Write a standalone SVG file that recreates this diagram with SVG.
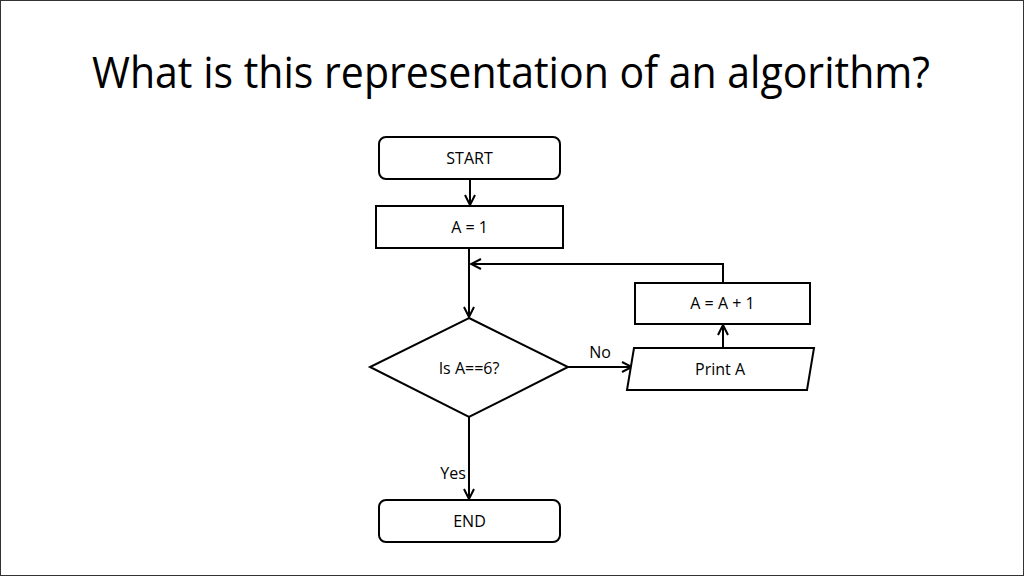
<svg xmlns="http://www.w3.org/2000/svg" width="1024" height="576" viewBox="0 0 1024 576">
<defs>
<marker id="ah" viewBox="0 0 12 12" refX="11" refY="6" markerWidth="12" markerHeight="12" markerUnits="userSpaceOnUse" orient="auto">
<path d="M1,1 L11,6 L1,11" fill="none" stroke="#000" stroke-width="2"/>
</marker>
<style>
.shape{fill:#fff;stroke:#000;stroke-width:2}
.lbl{font-family:"Open Sans","Liberation Sans",sans-serif;font-size:16px;fill:#000;text-anchor:middle}
.conn{fill:none;stroke:#000;stroke-width:2}
</style>
</defs>
<rect x="0.5" y="0.5" width="1023" height="575" fill="#fff" stroke="#333" stroke-width="1"/>
<text x="511" y="88" font-family="'Open Sans','Liberation Sans',sans-serif" font-size="43" text-anchor="middle" textLength="838" lengthAdjust="spacingAndGlyphs" fill="#000">What is this representation of an algorithm?</text>
<g id="connectors">
<path class="conn" d="M470,179 L470,205" marker-end="url(#ah)"/>
<path class="conn" d="M469,248 L469,317" marker-end="url(#ah)"/>
<path class="conn" d="M723,283 L723,264 L471,264" marker-end="url(#ah)"/>
<path class="conn" d="M568,367 L632,367" marker-end="url(#ah)"/>
<path class="conn" d="M723,348 L723,325" marker-end="url(#ah)"/>
<path class="conn" d="M469,417 L469,499" marker-end="url(#ah)"/>
<text class="lbl" x="600" y="358">No</text>
<text class="lbl" x="453" y="479">Yes</text>
</g>
<g id="start">
<rect class="shape" x="379" y="137" width="181" height="42" rx="7"/>
<text class="lbl" x="469.5" y="164">START</text>
</g>
<g id="a1">
<rect class="shape" x="376" y="206" width="187" height="42"/>
<text class="lbl" x="469.5" y="233">A = 1</text>
</g>
<g id="decision">
<polygon class="shape" points="469,318 568,367 469,417 370,367"/>
<text class="lbl" x="469" y="374">Is A==6?</text>
</g>
<g id="print">
<polygon class="shape" points="634,348 814,348 807,390 627,390"/>
<text class="lbl" x="720" y="375">Print A</text>
</g>
<g id="inc">
<rect class="shape" x="635" y="283" width="175" height="41"/>
<text class="lbl" x="722.5" y="309">A = A + 1</text>
</g>
<g id="end">
<rect class="shape" x="379" y="500" width="181" height="42" rx="7"/>
<text class="lbl" x="469.5" y="527">END</text>
</g>
</svg>
